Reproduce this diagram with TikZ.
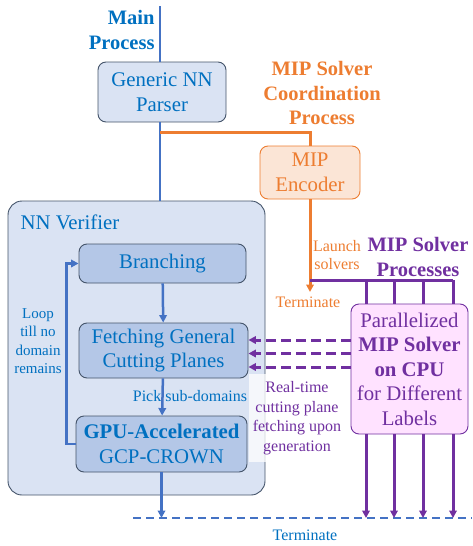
\documentclass[tikz,border=0pt]{standalone}
\usepackage{fontspec}
\setmainfont{Liberation Serif}
\usetikzlibrary{arrows.meta,positioning}
\definecolor{txtblue}{HTML}{0070C0}
\definecolor{lineblue}{HTML}{4472C4}
\definecolor{nnfill}{HTML}{DAE3F3}
\definecolor{nndark}{HTML}{B4C7E7}
\definecolor{nnedge}{HTML}{44546A}
\definecolor{coordor}{HTML}{ED7D31}
\definecolor{encfill}{HTML}{FBE5D6}
\definecolor{solvpur}{HTML}{7030A0}
\definecolor{solvfill}{HTML}{FFE2FF}
\newcommand\boxfont{\fontsize{20.8}{24.5}\selectfont}
\newcommand\headfont{\fontsize{20.5}{24.5}\selectfont\bfseries}
\newcommand\lblfont{\fontsize{16}{18.5}\selectfont}
\tikzset{
    proc/.style = {rectangle, rounded corners=8pt, draw=nnedge, fill=nnfill, line width=0.9pt,
                   text=txtblue, align=center, font=\boxfont},
    stage/.style = {proc, fill=nndark},
    enc/.style = {proc, draw=coordor, fill=encfill, text=coordor},
    solver/.style = {proc, draw=solvpur, fill=solvfill, text=solvpur},
    mainline/.style = {draw=lineblue, line width=2.5pt},
    coordline/.style = {draw=coordor, line width=3pt},
    solvline/.style = {draw=solvpur, line width=3pt},
    >={Triangle[width=7.5pt,length=7.5pt]}
}

\begin{document}
\begin{tikzpicture}[x=1pt,y=-1pt]
        \useasboundingbox (0,0) rectangle (472,546);

        %% Main process
        \coordinate (mtop) at (160,6);
        \node[proc,minimum width=128pt,minimum height=60pt] (parser) at (162,92) {Generic NN\\Parser};
        \node[text=txtblue,font=\headfont,align=right,anchor=east] (tmain) at (158,30) {Main\\Process};
        \node[proc,minimum width=257pt,minimum height=294pt,rounded corners=14pt] (verif) at (136.5,348) {};
        \node[text=txtblue,font=\boxfont,anchor=west] (tverif) at (17,222) {NN Verifier};
        \draw[mainline] (mtop) -- (mtop |- parser.north);
        \draw[mainline] (mtop |- parser.south) -- (mtop |- verif.north);

        %% Verifier stages
        \node[stage,minimum width=167pt,minimum height=39pt] (branch) at (162.5,263.5) {Branching};
        \node[stage,minimum width=169pt,minimum height=55pt] (fetch) at (163.5,350.5) {Fetching General\\Cutting Planes};
        \node[stage,minimum width=171pt,minimum height=56pt] (gpu) at (161.5,444) {\textbf{GPU-Accelerated}\\GCP-CROWN};
        \node[text=txtblue,font=\fontsize{15}{18.5}\selectfont,align=center] (tloop) at (38,341) {Loop\\till no\\domain\\remains};
        \node[text=txtblue,font=\lblfont] (tpick) at (190,396) {Pick sub-domains};
        \draw[mainline,->] (branch) -- (fetch);
        \draw[mainline,->] (fetch) -- (gpu);
        \draw[mainline,->] (gpu.west) -- ++(-9,0) |- (branch.west);

        %% Terminate
        \coordinate (dstart) at (133,518);
        \coordinate (dend) at (472,518);
        \draw[draw=lineblue,line width=2.5pt,dash pattern=on 8pt off 5pt] (dstart) -- (dend);
        \node[text=txtblue,font=\lblfont] (tterm) at (305,535) {Terminate};
        \draw[mainline,->] (gpu.south) -- (gpu.south |- dstart);

        %% MIP solver coordination
        \node[text=coordor,font=\headfont,align=center] (tcoord) at (322,93) {MIP Solver\\Coordination\\Process};
        \node[enc,minimum width=100pt,minimum height=53pt] (enc) at (310,172.5) {MIP\\Encoder};
        \coordinate (ojoin) at (160,132);
        \coordinate (oend) at (310,292);
        \draw[coordline] (ojoin) -| (enc.north);
        \draw[coordline,->] (enc.south) -- (oend);
        \node[text=coordor,font=\lblfont,align=center] (tlaunch) at (337,255) {Launch\\solvers};
        \node[text=coordor,font=\lblfont] (toterm) at (308,302) {Terminate};

        %% MIP solver processes
        \node[text=solvpur,font=\headfont,align=center] (tsolv) at (418,257) {MIP Solver\\Processes};
        \node[solver,minimum width=117pt,minimum height=130pt] (mip) at (409.5,369)
            {Parallelized\\\textbf{MIP Solver}\\\textbf{on CPU}\\for Different\\Labels};
        \coordinate (pjoin) at (310,280);
        \draw[solvline] (pjoin) -- (453,280);
        \foreach \x in {366,394,423,453} {
            \draw[solvline] (\x,280) -- (\x,280 |- mip.north);
            \draw[solvline,->] (\x,280 |- mip.south) -- (\x,280 |- dstart);
        }
        \foreach \y in {340,353.5,367} {
            \draw[solvline,dash pattern=on 10pt off 5pt,->] (mip.west |- 0,\y) -- (fetch.east |- 0,\y);
        }
        \node[fill=white,fill opacity=0.75,text opacity=1,text=solvpur,font=\fontsize{16}{19.5}\selectfont,
              align=center,inner sep=2pt,minimum width=96pt,minimum height=88pt] (treal) at (297,418)
            {Real-time\\cutting plane\\fetching upon\\generation};
    \end{tikzpicture}
\end{document}
